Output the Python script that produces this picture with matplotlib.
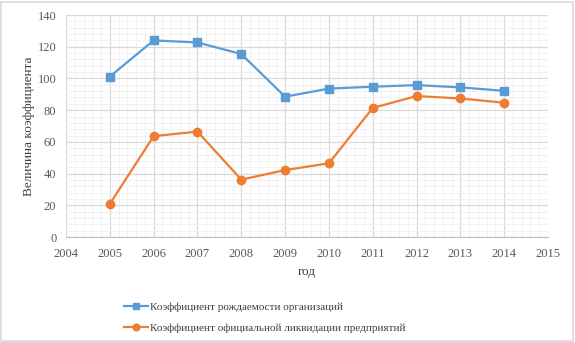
import matplotlib

matplotlib.use("Agg")

import matplotlib.pyplot as plt
from matplotlib.patches import Rectangle
from matplotlib.ticker import MultipleLocator

years = [2005, 2006, 2007, 2008, 2009, 2010, 2011, 2012, 2013, 2014]
birth_rate = [101.2, 124.0, 122.7, 115.4, 88.5, 93.6, 94.8, 95.8, 94.4, 92.2]
liquidation_rate = [20.9, 63.6, 66.5, 36.2, 42.2, 46.5, 81.4, 88.9, 87.4, 84.7]
labels = [
    "Коэффициент рождаемости организаций",
    "Коэффициент официальной ликвидации предприятий",
]

plt.rcParams["font.family"] = ["Liberation Serif", "DejaVu Serif"]

fig = plt.figure(figsize=(5.75, 3.42), dpi=100)
fig.patches.append(
    Rectangle((0.002, 0.003), 0.994, 0.992, transform=fig.transFigure,
              fill=False, edgecolor="#d9d9d9", lw=1.2)
)
ax = fig.add_axes([0.1148, 0.307, 0.8382, 0.649])

ax.plot(years, birth_rate, color="#5B9BD5", lw=1.6, marker="s", ms=6,
        label=labels[0], zorder=3)
ax.plot(years, liquidation_rate, color="#ED7D31", lw=1.6, marker="o", ms=6,
        label=labels[1], zorder=3)

ax.set_xlim(2004, 2015)
ax.set_ylim(0, 140)
ax.xaxis.set_major_locator(MultipleLocator(1))
ax.xaxis.set_minor_locator(MultipleLocator(0.2))
ax.yaxis.set_major_locator(MultipleLocator(20))
ax.yaxis.set_minor_locator(MultipleLocator(4))
ax.grid(which="major", color="#d9d9d9", lw=0.9)
ax.grid(which="minor", color="#efefef", lw=0.6)
ax.set_axisbelow(True)
for side in ["top", "right", "left"]:
    ax.spines[side].set_visible(False)
ax.spines["bottom"].set_color("#bfbfbf")
ax.tick_params(which="both", length=0, labelsize=9, colors="#595959")
ax.tick_params(axis="x", pad=8)
ax.tick_params(axis="y", pad=7)

ax.set_xlabel("год", fontsize=9.5, color="#404040", labelpad=4)
ax.set_ylabel("Величина коэффициента", fontsize=9.5, color="#404040", labelpad=2)

fig.legend(loc="upper center", bbox_to_anchor=(0.46, 0.146), ncol=1,
           frameon=False, fontsize=8, handlelength=2.2, labelspacing=1.0,
           handletextpad=0.15, labelcolor="#404040", markerscale=0.8)

fig.savefig("out.png", dpi=100)
